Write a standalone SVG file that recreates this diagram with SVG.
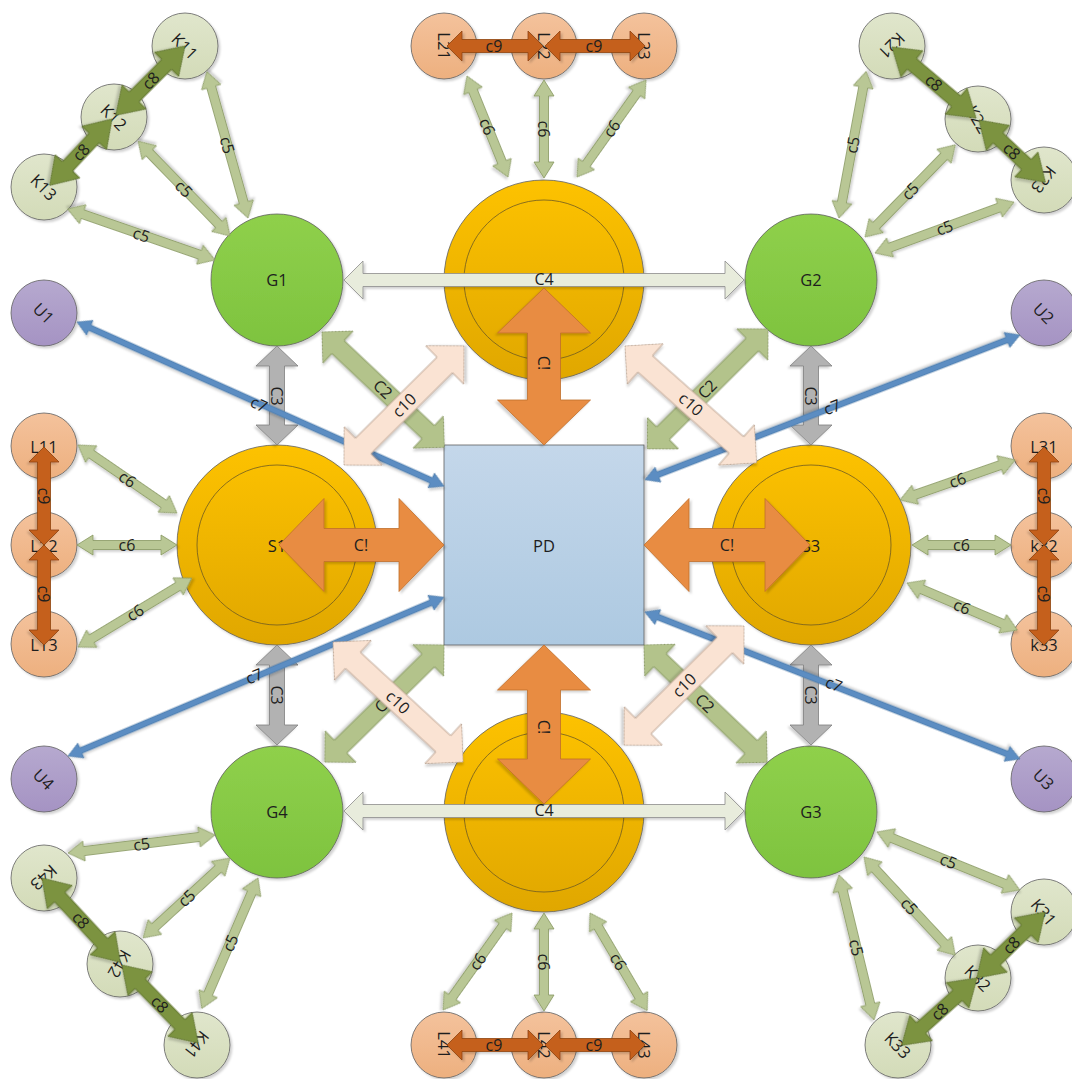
<svg xmlns="http://www.w3.org/2000/svg" width="1072" height="1079" viewBox="0 0 1072 1079">
<defs>
<filter id="sh" x="-30%" y="-30%" width="160%" height="160%"><feDropShadow dx="2" dy="2" stdDeviation="1" flood-color="#000" flood-opacity=".18"/></filter>
<linearGradient id="gG" x1="0" y1="0" x2="0" y2="1"><stop offset="0" stop-color="#8fd04b"/><stop offset="1" stop-color="#7ec33f"/></linearGradient>
<linearGradient id="gO" x1="0" y1="0" x2="0" y2="1"><stop offset="0" stop-color="#fdc200"/><stop offset="1" stop-color="#e0a700"/></linearGradient>
<linearGradient id="gK" x1="0" y1="0" x2="0" y2="1"><stop offset="0" stop-color="#e0e6cc"/><stop offset="1" stop-color="#d3dbb8"/></linearGradient>
<linearGradient id="gL" x1="0" y1="0" x2="0" y2="1"><stop offset="0" stop-color="#f4c29c"/><stop offset="1" stop-color="#edb07f"/></linearGradient>
<linearGradient id="gU" x1="0" y1="0" x2="0" y2="1"><stop offset="0" stop-color="#b6a9cf"/><stop offset="1" stop-color="#a593c3"/></linearGradient>
<linearGradient id="gP" x1="0" y1="0" x2="0" y2="1"><stop offset="0" stop-color="#c4d7ea"/><stop offset="1" stop-color="#adc9e1"/></linearGradient>
</defs>
<style>
text{font-family:"Open Sans","Liberation Sans",sans-serif;fill:#1e1e1e;text-anchor:middle;dominant-baseline:central}
.nl{font-size:16.5px}
.cl{font-size:16px}
.nd{stroke:#5f5f5f;stroke-width:.8;filter:url(#sh)}
.gr{fill:url(#gG)}
.or{fill:url(#gO)}
.in{fill:none;stroke:#6e5a22;stroke-width:.8}
.kk{fill:url(#gK)}
.ll{fill:url(#gL)}
.uu{fill:url(#gU)}
.pd{fill:url(#gP)}
.a5{fill:#b9c795;stroke:#87975f;stroke-width:.8;filter:url(#sh)}
.a2{fill:#b3c38b;stroke:#7f8f58;stroke-width:.8;filter:url(#sh)}
.a8{fill:#7b9340;stroke:#5a6d2c;stroke-width:.8;filter:url(#sh)}
.a9{fill:#c5601b;stroke:#8e4212;stroke-width:.8;filter:url(#sh)}
.a3{fill:#b2b2b2;stroke:#7f7f7f;stroke-width:.8;filter:url(#sh)}
.a4{fill:#e8ecdc;stroke:#8c8c8c;stroke-width:.8;filter:url(#sh)}
.ax{fill:#e88c42;stroke:#bf6e2c;stroke-width:.8;filter:url(#sh)}
.a10{fill:#fae3d3;stroke:#b39a88;stroke-width:.8;filter:url(#sh)}
.a7{fill:#5b8dc2;stroke:#41709f;stroke-width:.6;filter:url(#sh)}
</style>
<rect width="1072" height="1079" fill="#fff"/>
<g id="nodes">
<g id="G1"><circle class="nd gr" cx="277" cy="280" r="66"/><text class="nl" x="277" y="279">G1</text></g>
<g id="G2"><circle class="nd gr" cx="811" cy="280" r="66"/><text class="nl" x="811" y="279">G2</text></g>
<g id="G3"><circle class="nd gr" cx="811" cy="812" r="66"/><text class="nl" x="811" y="811">G3</text></g>
<g id="G4"><circle class="nd gr" cx="277" cy="812" r="66"/><text class="nl" x="277" y="811">G4</text></g>
<g id="S1"><circle class="nd or" cx="277" cy="545" r="100"/><circle class="in" cx="277" cy="545" r="80"/><text class="nl" x="277" y="545">S1</text></g>
<g id="S2"><circle class="nd or" cx="544" cy="280" r="100"/><circle class="in" cx="544" cy="280" r="80"/></g>
<g id="S3"><circle class="nd or" cx="811" cy="545" r="100"/><circle class="in" cx="811" cy="545" r="80"/><text class="nl" x="811" y="545">S3</text></g>
<g id="S4"><circle class="nd or" cx="544" cy="812" r="100"/><circle class="in" cx="544" cy="812" r="80"/></g>
<g id="PD"><rect class="nd pd" x="444" y="445" width="200" height="200"/><text class="nl" x="544" y="545">PD</text></g>
<g id="U1"><circle class="nd uu" cx="44" cy="313" r="33"/><text class="nl" transform="translate(44 313) rotate(45)">U1</text></g>
<g id="U2"><circle class="nd uu" cx="1044" cy="313" r="33"/><text class="nl" transform="translate(1044 313) rotate(45)">U2</text></g>
<g id="U3"><circle class="nd uu" cx="1044" cy="779" r="33"/><text class="nl" transform="translate(1044 779) rotate(45)">U3</text></g>
<g id="U4"><circle class="nd uu" cx="44" cy="779" r="33"/><text class="nl" transform="translate(44 779) rotate(45)">U4</text></g>
<g id="K11"><circle class="nd kk" cx="185" cy="46" r="33"/><text class="nl" transform="translate(185 46) rotate(45)">K11</text></g>
<g id="K12"><circle class="nd kk" cx="114" cy="117" r="33"/><text class="nl" transform="translate(114 117) rotate(45)">K12</text></g>
<g id="K13"><circle class="nd kk" cx="44" cy="187" r="33"/><text class="nl" transform="translate(44 187) rotate(45)">K13</text></g>
<g id="K21"><circle class="nd kk" cx="892" cy="46" r="33"/><text class="nl" transform="translate(892 46) rotate(135)">K21</text></g>
<g id="K22"><circle class="nd kk" cx="978" cy="119" r="33"/><text class="nl" transform="translate(978 119) rotate(60)">K22</text></g>
<g id="K23"><circle class="nd kk" cx="1044" cy="180" r="33"/><text class="nl" transform="translate(1044 180) rotate(128)">K23</text></g>
<g id="K31"><circle class="nd kk" cx="1044" cy="912" r="33"/><text class="nl" transform="translate(1044 912) rotate(50)">K31</text></g>
<g id="K32"><circle class="nd kk" cx="978" cy="978" r="33"/><text class="nl" transform="translate(978 978) rotate(45)">K32</text></g>
<g id="K33"><circle class="nd kk" cx="898" cy="1045" r="33"/><text class="nl" transform="translate(898 1045) rotate(45)">K33</text></g>
<g id="K41"><circle class="nd kk" cx="197" cy="1045" r="33"/><text class="nl" transform="translate(197 1045) rotate(128)">K41</text></g>
<g id="K42"><circle class="nd kk" cx="120" cy="964" r="33"/><text class="nl" transform="translate(120 964) rotate(120)">K42</text></g>
<g id="K43"><circle class="nd kk" cx="44" cy="878" r="33"/><text class="nl" transform="translate(44 878) rotate(138)">K43</text></g>
<g id="L11"><circle class="nd ll" cx="44" cy="446" r="33"/><text class="nl" x="44" y="446">L11</text></g>
<g id="L12"><circle class="nd ll" cx="44" cy="545" r="33"/><text class="nl" x="44" y="545">L12</text></g>
<g id="L13"><circle class="nd ll" cx="44" cy="644" r="33"/><text class="nl" x="44" y="644">L13</text></g>
<g id="L21"><circle class="nd ll" cx="444" cy="46" r="33"/><text class="nl" transform="translate(444 46) rotate(90)">L21</text></g>
<g id="L22"><circle class="nd ll" cx="544" cy="46" r="33"/><text class="nl" transform="translate(544 46) rotate(90)">L22</text></g>
<g id="L23"><circle class="nd ll" cx="644" cy="46" r="33"/><text class="nl" transform="translate(644 46) rotate(90)">L23</text></g>
<g id="L31"><circle class="nd ll" cx="1044" cy="446" r="33"/><text class="nl" x="1044" y="446">L31</text></g>
<g id="k32"><circle class="nd ll" cx="1044" cy="545" r="33"/><text class="nl" x="1044" y="545">k32</text></g>
<g id="k33"><circle class="nd ll" cx="1044" cy="644" r="33"/><text class="nl" x="1044" y="644">k33</text></g>
<g id="L41"><circle class="nd ll" cx="444" cy="1045" r="33"/><text class="nl" transform="translate(444 1045) rotate(90)">L41</text></g>
<g id="L42"><circle class="nd ll" cx="544" cy="1045" r="33"/><text class="nl" transform="translate(544 1045) rotate(90)">L42</text></g>
<g id="L43"><circle class="nd ll" cx="644" cy="1045" r="33"/><text class="nl" transform="translate(644 1045) rotate(90)">L43</text></g>
</g>
<g id="connectors">
<!-- C4 -->
<path class="a4" transform="translate(344 280)" d="M0 0L19-19L19-6.5L381-6.5L381-19L400 0L381 19L381 6.5L19 6.5L19 19Z"/>
<text class="cl" x="544" y="279">C4</text>
<path class="a4" transform="translate(344 811)" d="M0 0L19-19L19-6.5L381-6.5L381-19L400 0L381 19L381 6.5L19 6.5L19 19Z"/>
<text class="cl" x="544" y="810">C4</text>
<!-- C! -->
<path class="ax" transform="translate(544 288) rotate(90)" d="M0 0L45-46.5L45-16.5L112-16.5L112-46.5L157 0L112 46.5L112 16.5L45 16.5L45 46.5Z"/>
<text class="cl" transform="translate(544 363) rotate(90)">C!</text>
<path class="ax" transform="translate(279 545)" d="M0 0L45-46.5L45-16.5L120-16.5L120-46.5L165 0L120 46.5L120 16.5L45 16.5L45 46.5Z"/>
<text class="cl" x="361" y="545">C!</text>
<path class="ax" transform="translate(644 545)" d="M0 0L45-46.5L45-16.5L121-16.5L121-46.5L166 0L121 46.5L121 16.5L45 16.5L45 46.5Z"/>
<text class="cl" x="727" y="545">C!</text>
<path class="ax" transform="translate(544 645) rotate(90)" d="M0 0L45-46.5L45-16.5L114-16.5L114-46.5L159 0L114 46.5L114 16.5L45 16.5L45 46.5Z"/>
<text class="cl" transform="translate(544 727) rotate(90)">C!</text>
<!-- C3 -->
<path class="a3" transform="translate(277 346) rotate(90)" d="M0 0L20-21L20-7.5L79-7.5L79-21L99 0L79 21L79 7.5L20 7.5L20 21Z"/>
<text class="cl" transform="translate(277 396) rotate(90)">C3</text>
<path class="a3" transform="translate(811 346) rotate(90)" d="M0 0L20-21L20-7.5L79-7.5L79-21L99 0L79 21L79 7.5L20 7.5L20 21Z"/>
<text class="cl" transform="translate(811 396) rotate(90)">C3</text>
<path class="a3" transform="translate(277 645) rotate(90)" d="M0 0L20-21L20-7.5L80-7.5L80-21L100 0L80 21L80 7.5L20 7.5L20 21Z"/>
<text class="cl" transform="translate(277 695) rotate(90)">C3</text>
<path class="a3" transform="translate(811 645) rotate(90)" d="M0 0L20-21L20-7.5L80-7.5L80-21L100 0L80 21L80 7.5L20 7.5L20 21Z"/>
<text class="cl" transform="translate(811 695) rotate(90)">C3</text>
<!-- C2 -->
<path class="a2" transform="translate(322 332) rotate(43.3)" d="M0 0L22-22L22-9L146-9L146-22L168 0L146 22L146 9L22 9L22 22Z"/>
<text class="cl" transform="translate(383 389) rotate(43.3)">C2</text>
<path class="a2" transform="translate(768 329) rotate(135.2)" d="M0 0L22-22L22-9L148-9L148-22L170 0L148 22L148 9L22 9L22 22Z"/>
<text class="cl" transform="translate(707 389) rotate(-44.8)">C2</text>
<path class="a2" transform="translate(444 645) rotate(135.5)" d="M0 0L22-22L22-9L145-9L145-22L167 0L145 22L145 9L22 9L22 22Z"/>
<text class="cl" transform="translate(384 703) rotate(-44.5)">C2</text>
<path class="a2" transform="translate(644 645) rotate(43.6)" d="M0 0L22-22L22-9L148-9L148-22L170 0L148 22L148 9L22 9L22 22Z"/>
<text class="cl" transform="translate(705 703) rotate(43.6)">C2</text>
<!-- c7 -->
<path class="a7" transform="translate(77 322) rotate(24.1)" d="M0 0L14-8L14-3L388-3L388-8L402 0L388 8L388 3L14 3L14 8Z"/>
<text class="cl" transform="translate(259 404) rotate(24.1)">c7</text>
<path class="a7" transform="translate(1020 335) rotate(158.9)" d="M0 0L14-8L14-3L388-3L388-8L402 0L388 8L388 3L14 3L14 8Z"/>
<text class="cl" transform="translate(832 407) rotate(-21.1)">c7</text>
<path class="a7" transform="translate(68 756) rotate(-22.9)" d="M0 0L14-8L14-3L394-3L394-8L408 0L394 8L394 3L14 3L14 8Z"/>
<text class="cl" transform="translate(254 676) rotate(-22.9)">c7</text>
<path class="a7" transform="translate(1020 759) rotate(-158.6)" d="M0 0L14-8L14-3L389-3L389-8L403 0L389 8L389 3L14 3L14 8Z"/>
<text class="cl" transform="translate(834 684) rotate(21.4)">c7</text>
<!-- c10 -->
<path class="a10" transform="translate(344 465) rotate(-44.8)" d="M0 0L27-27L27-11L142-11L142-27L169 0L142 27L142 11L27 11L27 27Z"/>
<text class="cl" transform="translate(404 405) rotate(-44.8)">c10</text>
<path class="a10" transform="translate(625 346) rotate(41.6)" d="M0 0L27-27L27-11L149-11L149-27L176 0L149 27L149 11L27 11L27 27Z"/>
<text class="cl" transform="translate(691 404) rotate(41.6)">c10</text>
<path class="a10" transform="translate(333 642) rotate(42.7)" d="M0 0L27-27L27-11L150-11L150-27L177 0L150 27L150 11L27 11L27 27Z"/>
<text class="cl" transform="translate(398 702) rotate(42.7)">c10</text>
<path class="a10" transform="translate(744 626) rotate(135.2)" d="M0 0L27-27L27-11L142-11L142-27L169 0L142 27L142 11L27 11L27 27Z"/>
<text class="cl" transform="translate(684 685) rotate(-44.8)">c10</text>
<!-- c5 -->
<path class="a5" transform="translate(248 218) rotate(-105.7)" d="M0 0L16-10L16-4.5L136-4.5L136-10L152 0L136 10L136 4.5L16 4.5L16 10Z"/>
<text class="cl" transform="translate(227.5 145) rotate(74.3)">c5</text>
<path class="a5" transform="translate(230 236) rotate(-134.1)" d="M0 0L16-10L16-4.5L116-4.5L116-10L132 0L116 10L116 4.5L16 4.5L16 10Z"/>
<text class="cl" transform="translate(184 188.5) rotate(45.9)">c5</text>
<path class="a5" transform="translate(215 260) rotate(-160.9)" d="M0 0L16-10L16-4.5L140-4.5L140-10L156 0L140 10L140 4.5L16 4.5L16 10Z"/>
<text class="cl" transform="translate(141.5 234.5) rotate(19.1)">c5</text>
<path class="a5" transform="translate(839 218) rotate(-79.5)" d="M0 0L16-10L16-4.5L133-4.5L133-10L149 0L133 10L133 4.5L16 4.5L16 10Z"/>
<text class="cl" transform="translate(852.5 145) rotate(-79.5)">c5</text>
<path class="a5" transform="translate(865 237) rotate(-45.6)" d="M0 0L16-10L16-4.5L113-4.5L113-10L129 0L113 10L113 4.5L16 4.5L16 10Z"/>
<text class="cl" transform="translate(910 191) rotate(-45.6)">c5</text>
<path class="a5" transform="translate(875 253) rotate(-20.1)" d="M0 0L16-10L16-4.5L132-4.5L132-10L148 0L132 10L132 4.5L16 4.5L16 10Z"/>
<text class="cl" transform="translate(944.5 227.5) rotate(-20.1)">c5</text>
<path class="a5" transform="translate(877 832) rotate(22.1)" d="M0 0L16-10L16-4.5L138-4.5L138-10L154 0L138 10L138 4.5L16 4.5L16 10Z"/>
<text class="cl" transform="translate(948.5 861) rotate(22.1)">c5</text>
<path class="a5" transform="translate(864 857) rotate(47.1)" d="M0 0L16-10L16-4.5L118-4.5L118-10L134 0L118 10L118 4.5L16 4.5L16 10Z"/>
<text class="cl" transform="translate(909.5 906) rotate(47.1)">c5</text>
<path class="a5" transform="translate(839 875) rotate(76.4)" d="M0 0L16-10L16-4.5L133-4.5L133-10L149 0L133 10L133 4.5L16 4.5L16 10Z"/>
<text class="cl" transform="translate(856.5 947.5) rotate(76.4)">c5</text>
<path class="a5" transform="translate(215 835) rotate(173)" d="M0 0L16-10L16-4.5L132-4.5L132-10L148 0L132 10L132 4.5L16 4.5L16 10Z"/>
<text class="cl" transform="translate(141.5 844) rotate(-7)">c5</text>
<path class="a5" transform="translate(230 858) rotate(137.4)" d="M0 0L16-10L16-4.5L102-4.5L102-10L118 0L102 10L102 4.5L16 4.5L16 10Z"/>
<text class="cl" transform="translate(186.5 898) rotate(-42.6)">c5</text>
<path class="a5" transform="translate(258 878) rotate(113.3)" d="M0 0L16-10L16-4.5L126-4.5L126-10L142 0L126 10L126 4.5L16 4.5L16 10Z"/>
<text class="cl" transform="translate(230 943) rotate(-66.7)">c5</text>
<!-- c6 -->
<path class="a5" transform="translate(467 76) rotate(67.9)" d="M0 0L16-10L16-4.5L93-4.5L93-10L109 0L93 10L93 4.5L16 4.5L16 10Z"/>
<text class="cl" transform="translate(487.5 126.5) rotate(67.9)">c6</text>
<path class="a5" transform="translate(544 80) rotate(90)" d="M0 0L16-10L16-4.5L82-4.5L82-10L98 0L82 10L82 4.5L16 4.5L16 10Z"/>
<text class="cl" transform="translate(544 129) rotate(90)">c6</text>
<path class="a5" transform="translate(646 80) rotate(125.4)" d="M0 0L16-10L16-4.5L103-4.5L103-10L119 0L103 10L103 4.5L16 4.5L16 10Z"/>
<text class="cl" transform="translate(611.5 128.5) rotate(-54.6)">c6</text>
<path class="a5" transform="translate(78 445) rotate(34.5)" d="M0 0L16-10L16-4.5L104-4.5L104-10L120 0L104 10L104 4.5L16 4.5L16 10Z"/>
<text class="cl" transform="translate(127.5 479) rotate(34.5)">c6</text>
<path class="a5" transform="translate(77 545)" d="M0 0L16-10L16-4.5L84-4.5L84-10L100 0L84 10L84 4.5L16 4.5L16 10Z"/>
<text class="cl" x="127" y="545">c6</text>
<path class="a5" transform="translate(78 647) rotate(-31.2)" d="M0 0L16-10L16-4.5L117-4.5L117-10L133 0L117 10L117 4.5L16 4.5L16 10Z"/>
<text class="cl" transform="translate(135 612.5) rotate(-31.2)">c6</text>
<path class="a5" transform="translate(900 500) rotate(-19.2)" d="M0 0L16-10L16-4.5L106-4.5L106-10L122 0L106 10L106 4.5L16 4.5L16 10Z"/>
<text class="cl" transform="translate(957.5 480) rotate(-19.2)">c6</text>
<path class="a5" transform="translate(912 545)" d="M0 0L16-10L16-4.5L83-4.5L83-10L99 0L83 10L83 4.5L16 4.5L16 10Z"/>
<text class="cl" x="961.5" y="545">c6</text>
<path class="a5" transform="translate(907 583) rotate(23.1)" d="M0 0L16-10L16-4.5L104-4.5L104-10L120 0L104 10L104 4.5L16 4.5L16 10Z"/>
<text class="cl" transform="translate(962 606.5) rotate(23.1)">c6</text>
<path class="a5" transform="translate(512 913) rotate(125.4)" d="M0 0L16-10L16-4.5L103-4.5L103-10L119 0L103 10L103 4.5L16 4.5L16 10Z"/>
<text class="cl" transform="translate(477.5 961.5) rotate(-54.6)">c6</text>
<path class="a5" transform="translate(544 913) rotate(90)" d="M0 0L16-10L16-4.5L82-4.5L82-10L98 0L82 10L82 4.5L16 4.5L16 10Z"/>
<text class="cl" transform="translate(544 962) rotate(90)">c6</text>
<path class="a5" transform="translate(590 913) rotate(59.6)" d="M0 0L16-10L16-4.5L97-4.5L97-10L113 0L97 10L97 4.5L16 4.5L16 10Z"/>
<text class="cl" transform="translate(618.5 961.5) rotate(59.6)">c6</text>
<!-- c8 -->
<path class="a8" transform="translate(185 46) rotate(135)" d="M0 0L26-17L26-7L72-7L72-17L98 0L72 17L72 7L26 7L26 17Z"/>
<text class="cl" transform="translate(150.5 80.5) rotate(-45)">c8</text>
<path class="a8" transform="translate(112 119) rotate(133.2)" d="M0 0L26-17L26-7L65-7L65-17L91 0L65 17L65 7L26 7L26 17Z"/>
<text class="cl" transform="translate(81 152) rotate(-46.8)">c8</text>
<path class="a8" transform="translate(892 47) rotate(40.2)" d="M0 0L26-17L26-7L84-7L84-17L110 0L84 17L84 7L26 7L26 17Z"/>
<text class="cl" transform="translate(934 82.5) rotate(40.2)">c8</text>
<path class="a8" transform="translate(979 120) rotate(43.2)" d="M0 0L26-17L26-7L65-7L65-17L91 0L65 17L65 7L26 7L26 17Z"/>
<text class="cl" transform="translate(1012 151) rotate(43.2)">c8</text>
<path class="a8" transform="translate(1045 912) rotate(135.9)" d="M0 0L26-17L26-7L69-7L69-17L95 0L69 17L69 7L26 7L26 17Z"/>
<text class="cl" transform="translate(1011 945) rotate(-44.1)">c8</text>
<path class="a8" transform="translate(977 978) rotate(138.2)" d="M0 0L26-17L26-7L75-7L75-17L101 0L75 17L75 7L26 7L26 17Z"/>
<text class="cl" transform="translate(939.5 1011.5) rotate(-41.8)">c8</text>
<path class="a8" transform="translate(42 878) rotate(47.1)" d="M0 0L26-17L26-7L89-7L89-17L115 0L89 17L89 7L26 7L26 17Z"/>
<text class="cl" transform="translate(81 920) rotate(47.1)">c8</text>
<path class="a8" transform="translate(122 965) rotate(45.7)" d="M0 0L26-17L26-7L83-7L83-17L109 0L83 17L83 7L26 7L26 17Z"/>
<text class="cl" transform="translate(160 1004) rotate(45.7)">c8</text>
<!-- c9 -->
<path class="a9" transform="translate(447 46)" d="M0 0L15-15L15-6.5L81-6.5L81-15L96 0L81 15L81 6.5L15 6.5L15 15Z"/>
<text class="cl" x="494" y="46">c9</text>
<path class="a9" transform="translate(545 46)" d="M0 0L15-15L15-6.5L85-6.5L85-15L100 0L85 15L85 6.5L15 6.5L15 15Z"/>
<text class="cl" x="594" y="46">c9</text>
<path class="a9" transform="translate(44 447) rotate(90)" d="M0 0L15-15L15-6.5L83-6.5L83-15L98 0L83 15L83 6.5L15 6.5L15 15Z"/>
<text class="cl" transform="translate(44 496) rotate(90)">c9</text>
<path class="a9" transform="translate(44 545) rotate(90)" d="M0 0L15-15L15-6.5L85-6.5L85-15L100 0L85 15L85 6.5L15 6.5L15 15Z"/>
<text class="cl" transform="translate(44 594) rotate(90)">c9</text>
<path class="a9" transform="translate(1044 447) rotate(90)" d="M0 0L15-15L15-6.5L83-6.5L83-15L98 0L83 15L83 6.5L15 6.5L15 15Z"/>
<text class="cl" transform="translate(1044 496) rotate(90)">c9</text>
<path class="a9" transform="translate(1044 545) rotate(90)" d="M0 0L15-15L15-6.5L85-6.5L85-15L100 0L85 15L85 6.5L15 6.5L15 15Z"/>
<text class="cl" transform="translate(1044 594) rotate(90)">c9</text>
<path class="a9" transform="translate(447 1045)" d="M0 0L15-15L15-6.5L81-6.5L81-15L96 0L81 15L81 6.5L15 6.5L15 15Z"/>
<text class="cl" x="494" y="1045">c9</text>
<path class="a9" transform="translate(545 1045)" d="M0 0L15-15L15-6.5L85-6.5L85-15L100 0L85 15L85 6.5L15 6.5L15 15Z"/>
<text class="cl" x="594" y="1045">c9</text>
</g>
</svg>
